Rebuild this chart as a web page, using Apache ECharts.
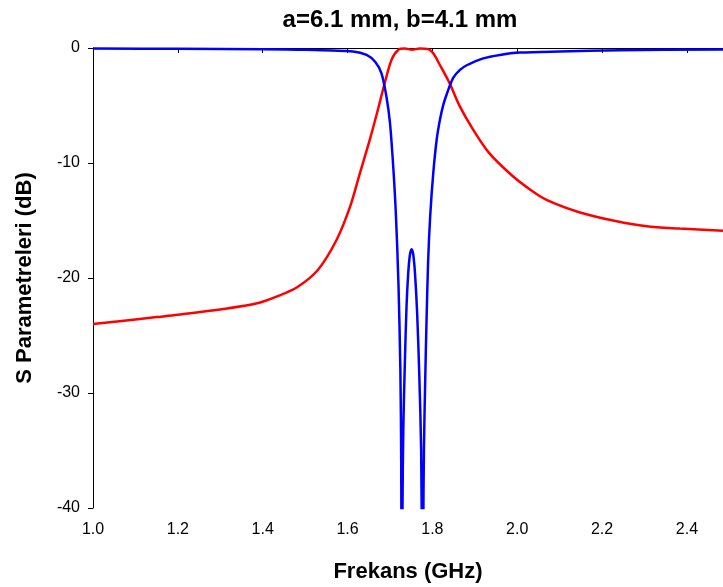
<!DOCTYPE html>
<html>
<head>
<meta charset="utf-8">
<script src="https://cdn.jsdelivr.net/npm/echarts@6/dist/echarts.min.js"></script>
<style>
  html, body { margin: 0; padding: 0; background: #fff; }
  #chart { width: 723px; height: 587px; }
</style>
</head>
<body>
<div id="chart"></div>
<script>
// S21 (transmission) samples: frequency in GHz, magnitude in dB
const s21Freq = [1.0, 1.1, 1.15, 1.2, 1.307, 1.387, 1.434, 1.481, 1.53, 1.574, 1.606, 1.629, 1.653, 1.672, 1.688, 1.704, 1.72, 1.735, 1.752, 1.77, 1.79, 1.802, 1.818, 1.841, 1.865, 1.896, 1.933, 1.985, 2.03, 2.069, 2.148, 2.226, 2.305, 2.383, 2.485];
const s21dB   = [-24.0, -23.6, -23.4, -23.2, -22.7, -22.2, -21.6, -20.8, -19.3, -16.7, -13.8, -10.9, -7.9, -5.3, -3.0, -1.0, -0.15, -0.05, -0.15, -0.05, -0.1, -0.46, -1.5, -3.1, -5.1, -7.1, -9.1, -11.0, -12.3, -13.2, -14.3, -15.0, -15.5, -15.7, -15.9];

// S11 (reflection) samples
const s11Freq = [1.0, 1.2, 1.4, 1.5, 1.613, 1.645, 1.665, 1.68, 1.692, 1.7, 1.708, 1.714, 1.72, 1.7245, 1.7265, 1.728, 1.7295, 1.7315, 1.735, 1.739, 1.743, 1.747, 1.751, 1.755, 1.759, 1.764, 1.769, 1.7735, 1.7755, 1.777, 1.7785, 1.78, 1.783, 1.786, 1.79, 1.795, 1.802, 1.81, 1.818, 1.826, 1.834, 1.849, 1.865, 1.881, 1.92, 1.959, 2.006, 2.1, 2.242, 2.485];
const s11dB   = [-0.05, -0.07, -0.1, -0.15, -0.3, -0.6, -1.2, -2.2, -4.3, -6.5, -10.5, -14.5, -20.5, -28, -36, -55, -40, -33, -27.5, -22.5, -19.6, -18.0, -17.5, -18.0, -19.6, -23, -28.3, -35, -45, -55, -42, -35, -29, -24, -18.5, -14.5, -10.9, -8.0, -6.2, -4.9, -4.0, -2.6, -1.9, -1.5, -0.9, -0.6, -0.4, -0.3, -0.2, -0.12];

const xTicks = { min: 1.0, max: 2.485, step: 0.2 };
const yTicks = { min: -40, max: 0, step: 10 };

const pairs = (xs, ys) => xs.map((x, i) => [x, ys[i]]);

const chart = echarts.init(document.getElementById('chart'), null, { renderer: 'canvas' });
const font = '"Liberation Sans", Arial, sans-serif';

chart.setOption({
  animation: false,
  backgroundColor: '#ffffff',
  textStyle: { fontFamily: font },
  grid: { left: 93, right: 0, top: 48, bottom: 79, containLabel: false, outerBoundsMode: 'none' },
  graphic: [{
    type: 'text',
    x: 400,
    y: 20,
    style: {
      text: 'a=6.1 mm, b=4.1 mm',
      font: 'bold 24px ' + font,
      fill: '#000',
      align: 'center',
      verticalAlign: 'middle'
    }
  }],
  xAxis: [{
    type: 'value',
    min: xTicks.min,
    max: xTicks.max,
    interval: xTicks.step,
    name: 'Frekans (GHz)',
    nameLocation: 'middle',
    nameGap: 53,
    nameTextStyle: { fontFamily: font, fontSize: 22, fontWeight: 'bold', color: '#000' },
    axisLine: { show: true, lineStyle: { color: '#000', width: 1 } },
    axisTick: { show: true, inside: false, length: 5, lineStyle: { color: '#000' } },
    axisLabel: {
      color: '#000', fontSize: 16, fontFamily: font, margin: 14,
      showMaxLabel: false,
      formatter: v => v.toFixed(1)
    },
    splitLine: { show: false }
  }, {
    type: 'value',
    position: 'top',
    min: xTicks.min,
    max: xTicks.max,
    axisLine: { show: true, lineStyle: { color: '#000', width: 1 } },
    axisTick: { show: false },
    axisLabel: { show: false },
    splitLine: { show: false }
  }],
  yAxis: {
    type: 'value',
    min: yTicks.min,
    max: yTicks.max,
    interval: yTicks.step,
    name: 'S Parametreleri (dB)',
    nameLocation: 'middle',
    nameRotate: 90,
    nameGap: 57,
    nameTextStyle: { fontFamily: font, fontSize: 22, fontWeight: 'bold', color: '#000' },
    axisLine: { show: true, lineStyle: { color: '#000', width: 1 } },
    axisTick: { show: true, inside: false, length: 5, lineStyle: { color: '#000' } },
    axisLabel: { color: '#000', fontSize: 16, fontFamily: font, margin: 13 },
    splitLine: { show: false }
  },
  series: [{
    name: 'S21',
    type: 'line',
    xAxisIndex: 0,
    data: pairs(s21Freq, s21dB),
    showSymbol: false,
    smooth: 0.3,
    clip: true,
    lineStyle: { color: '#ff0000', width: 2.5 }
  }, {
    name: 'S11',
    type: 'line',
    xAxisIndex: 0,
    data: pairs(s11Freq, s11dB),
    showSymbol: false,
    smooth: 0.3,
    clip: true,
    lineStyle: { color: '#0000ff', width: 2.5 }
  }]
});
</script>
</body>
</html>
